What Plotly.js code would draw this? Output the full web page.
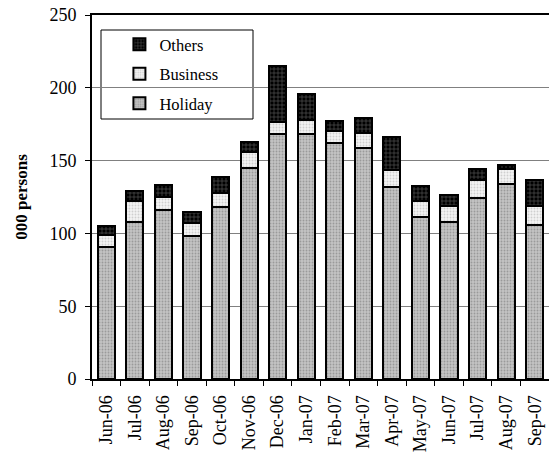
<!DOCTYPE html>
<html>
<head>
<meta charset="utf-8">
<script src="https://cdn.plot.ly/plotly-3.0.1.min.js"></script>
<style>html,body{margin:0;padding:0;background:#fff;}#chart{width:549px;height:453px;}</style>
</head>
<body>
<div id="chart"></div>
<script>
var months = ["Jun-06","Jul-06","Aug-06","Sep-06","Oct-06","Nov-06","Dec-06","Jan-07","Feb-07","Mar-07","Apr-07","May-07","Jun-07","Jul-07","Aug-07","Sep-07"];
var holiday  = [91, 108, 116, 98, 118, 145, 168, 168, 162, 159, 132, 111, 108, 124.5, 134, 106];
var business = [8, 14, 9, 9, 10, 11, 8.5, 10, 8, 10, 11.5, 11, 11, 12.5, 10, 13];
var others   = [6, 7, 8, 8, 11, 7, 38.5, 17.5, 7.5, 10.5, 22.5, 10.5, 7.5, 7, 3, 18];

function tr(name, y, bg, fg, shape, size, grp, rank){
  return {type:'bar', name:name, x:months, y:y, width:0.6, legendgroup:grp, legendrank:rank,
    marker:{color:bg, line:{color:'#000', width:2},
      pattern:{shape:shape, bgcolor:bg, fgcolor:fg, size:size, solidity:0.3, fillmode:'replace'}}};
}
var data = [
  tr('Holiday', holiday, '#c4c4c4', '#9a9a9a', '.', 3, 'h', 3),
  tr('Business', business, '#f4f4f4', '#cfcfcf', '.', 3, 'b', 2),
  tr('Others', others, '#000000', '#555555', '+', 4, 'o', 1)
];
var font = '"Times New Roman", "Liberation Serif", serif';
var layout = {
  width:549, height:453,
  margin:{l:92, r:0, t:15, b:74},
  paper_bgcolor:'#fff', plot_bgcolor:'#fff',
  barmode:'stack', bargap:0.4,
  font:{family:font, size:16, color:'#000'},
  showlegend:true,
  legend:{x:0.06, y:0.967, xanchor:'left', yanchor:'top', traceorder:'grouped',
    bgcolor:'rgba(0,0,0,0)', borderwidth:0, font:{family:font, size:16.5}, tracegroupgap:5},
  shapes:[{type:'rect', xref:'paper', yref:'paper', x0:(101-92)/457, x1:(253-92)/457,
    y0:(379-119)/364, y1:(379-30)/364, line:{color:'#000', width:1}, fillcolor:'#fff', layer:'below'}],
  xaxis:{type:'category', tickangle:-90, showline:true, linecolor:'#000', linewidth:2, mirror:true,
    ticks:'outside', ticklen:5, tickcolor:'#000', tickson:'boundaries', showgrid:false,
    ticklabelstandoff:7, tickfont:{family:font, size:18}},
  yaxis:{range:[0,250], dtick:50, showline:true, linecolor:'#000', linewidth:2,
    ticks:'outside', ticklen:5, tickcolor:'#000', showgrid:true, gridcolor:'#808080', gridwidth:1,
    ticklabelstandoff:5, zeroline:false, tickfont:{family:font, size:18},
    title:{text:'<b>000 persons</b>', font:{family:font, size:17}, standoff:17}}
};
Plotly.newPlot('chart', data, layout, {displayModeBar:false, staticPlot:true});
</script>
</body>
</html>
